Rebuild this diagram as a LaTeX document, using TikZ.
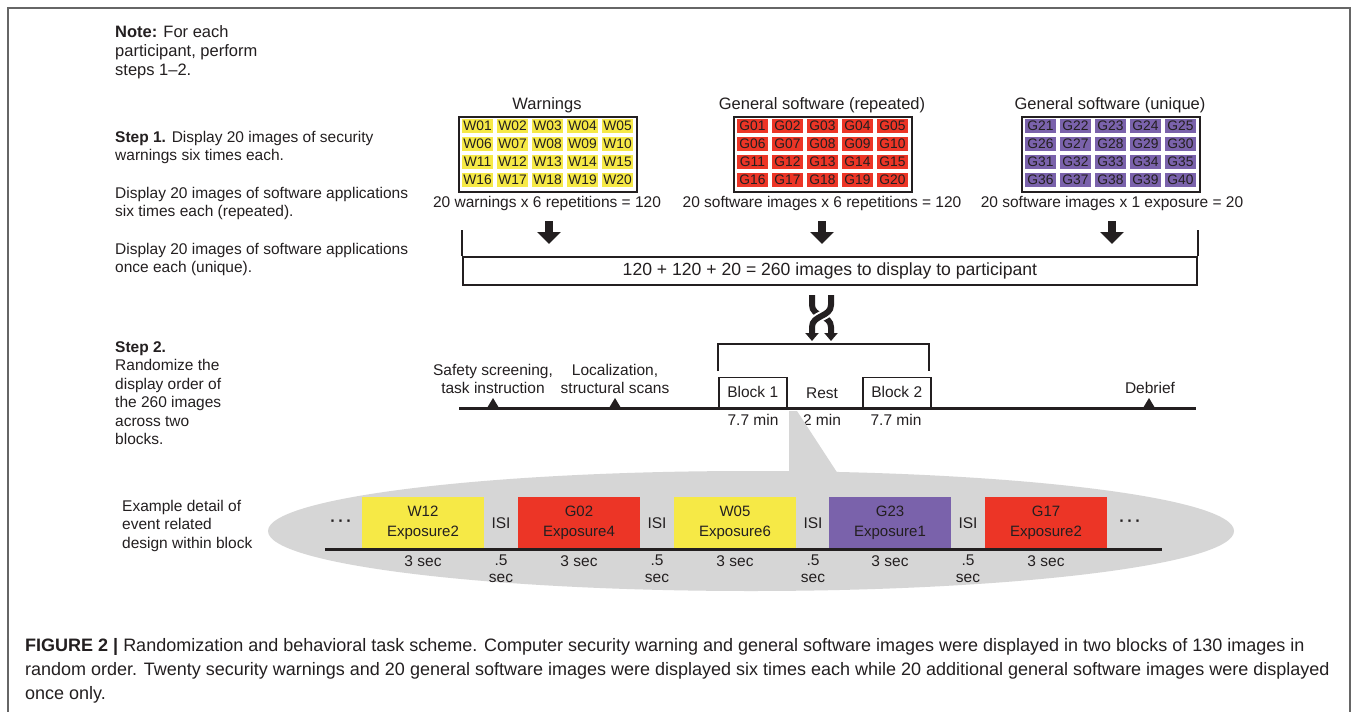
\documentclass[tikz,border=0pt]{standalone}
\usepackage{fontspec}
\setmainfont{Liberation Sans}
\usetikzlibrary{arrows.meta}

\definecolor{ink}{HTML}{231F20}
\definecolor{wyel}{HTML}{F6E946}
\definecolor{gred}{HTML}{EC3526}
\definecolor{gpur}{HTML}{7A62AB}
\definecolor{callout}{HTML}{D6D6D6}
\definecolor{framegray}{HTML}{666666}

\tikzset{
  body/.style={inner sep=0pt, text=ink, font=\fontsize{15.5}{18.5}\selectfont},
  leftcol/.style={body, anchor=north west, align=left},
  title/.style={inner sep=0pt, text=ink, font=\fontsize{16.5}{19}\selectfont},
  cell/.style={inner sep=0pt, minimum width=31, minimum height=14, text=ink,
    font=\fontsize{13.8}{14}\selectfont},
  gridbox/.style={draw=ink, line width=1.6, inner sep=0pt, minimum width=178,
    minimum height=75, anchor=north west},
  bigarrow/.style={line width=8, ink, -{Triangle[width=23pt,length=12pt]}},
  strand/.style={line width=6, ink, -{Triangle[width=13pt,length=8pt]}},
  gap/.style={line width=10, white},
  bracket/.style={draw=ink, line width=2},
  blockbox/.style={draw=ink, line width=1.5, inner sep=0pt, minimum width=68,
    minimum height=30, anchor=south west, body},
  axis/.style={draw=ink, line width=3},
  marker/.style={fill=ink},
  event/.style={inner sep=0pt, minimum width=122, minimum height=52, anchor=south,
    align=center, text=ink, font=\fontsize{15}{19.5}\selectfont},
}

% 4 x 5 grid of stimulus labels inside a framed box
% #1 left edge, #2 letter, #3 first number, #4 fill colour, #5 name prefix
\newcommand\stimgrid[5]{%
  \node[gridbox] (#5box) at (#1,116) {};
  \foreach \r in {0,...,3}{%
    \foreach \c in {0,...,4}{%
      \pgfmathtruncatemacro\num{#3+5*\r+\c}%
      \node[cell, fill=#4] (#5\num) at ({#1+19.5+35*\c},{126+18*\r})
        {#2\ifnum\num<10 0\fi\num};
    }%
  }%
}

\begin{document}
\begin{tikzpicture}[x=1pt,y=-1pt]
\useasboundingbox (0,0) rectangle (1358,712);
\fill[white] (0,0) rectangle (1358,712);

% outer frame
\draw[framegray, line width=1.5] (8,712) -- (8,8) -- (1350,8) -- (1350,712);

% ---------- left column ----------
\node[leftcol, font=\fontsize{16.5}{19}\selectfont] (note) at (115,25) {\textbf{Note:} For each\\participant, perform\\steps 1--2.};
\node[leftcol] (s1a) at (115,131) {\textbf{Step 1.} Display 20 images of security\\warnings six times each.};
\node[leftcol] (s1b) at (115,187) {Display 20 images of software applications\\six times each (repeated).};
\node[leftcol] (s1c) at (115,243) {Display 20 images of software applications\\once each (unique).};
\node[leftcol] (s2) at (115,341) {\textbf{Step 2.}\\Randomize the\\display order of\\the 260 images\\across two\\blocks.};
\node[leftcol] (ex) at (122,500) {Example detail of\\event related\\design within block};

% ---------- step 1 grids ----------
\node[title] (tW) at (547,105) {Warnings};
\node[title] (tR) at (822,105) {General software (repeated)};
\node[title] (tP) at (1110,105) {General software (unique)};

\stimgrid{458}{W}{1}{wyel}{w}
\stimgrid{733}{G}{1}{gred}{r}
\stimgrid{1021}{G}{21}{gpur}{p}

\node[body] (cW) at (547,203) {20 warnings x 6 repetitions = 120};
\node[body] (cR) at (822,203) {20 software images x 6 repetitions = 120};
\node[body] (cP) at (1112,203) {20 software images x 1 exposure = 20};

% merged total
\node[draw=ink, line width=1.8, inner sep=0pt, minimum width=734, minimum height=28,
  anchor=north west, body] (total) at (462,256) {};
\node[body, font=\fontsize{17.6}{20}\selectfont] (totaltxt) at (total.center) {120 + 120 + 20 = 260 images to display to participant};
\draw[ink, line width=1.8] (total.north west) -- ++(0,-26);
\draw[ink, line width=1.8] (total.north east) -- ++(0,-26);

\coordinate (aW) at (549,221);
\coordinate (aR) at (822,221);
\coordinate (aP) at (1112,221);
\draw[bigarrow] (aW) -- ++(0,23);
\draw[bigarrow] (aR) -- ++(0,23);
\draw[bigarrow] (aP) -- ++(0,23);

% shuffle symbol
\coordinate (shL) at (812,295);
\coordinate (shR) at (831,295);
\draw[strand] (shL) -- ++(0,10) .. controls +(0,12) and +(0,-12) .. (831,327) -- (831,341);
\draw[gap] (831,305) .. controls (831,317) and (812,315) .. (812,327);
\draw[strand] (shR) -- ++(0,10) .. controls +(0,12) and +(0,-12) .. (812,327) -- (812,341);

% ---------- step 2 timeline ----------
\draw[bracket] (718,371) -- (718,344) -- (929,344) -- (929,371);

\coordinate (t0) at (459,408);
\coordinate (t1) at (1196,408);

\node[blockbox] (b1) at (718,408) {Block 1};
\node[blockbox] (b2) at (862,408) {Block 2};
\node[body] (rest) at (822,393) {Rest};

\node[body, align=center] (safety) at (493,379) {Safety screening,\\task instruction};
\node[body, align=center] (local) at (615,379) {Localization,\\structural scans};
\node[body] (debrief) at (1150,388) {Debrief};

\node[body] (d1) at (753,420) {7.7 min};
\node[body] (d2) at (822,420) {2 min};
\node[body] (d3) at (896,420) {7.7 min};

% callout bubble
\fill[callout] (751,531) ellipse [x radius=483, y radius=60];
\fill[callout] (789,411) -- (797,411) -- (842,480) -- (789,480) -- cycle;

\draw[axis] (t0) -- (t1);
\fill[marker] (487,408) -- (493,398) -- (499,408) -- cycle;
\fill[marker] (609,408) -- (615,398) -- (621,408) -- cycle;
\fill[marker] (1143,408) -- (1149,398) -- (1155,408) -- cycle;

% ---------- event sequence ----------
\coordinate (e0) at (325,549);
\coordinate (e1) at (1162,549);

\node[event, fill=wyel] (ev1) at (423,549) {W12\\Exposure2};
\node[event, fill=gred] (ev2) at (579,549) {G02\\Exposure4};
\node[event, fill=wyel] (ev3) at (735,549) {W05\\Exposure6};
\node[event, fill=gpur] (ev4) at (890,549) {G23\\Exposure1};
\node[event, fill=gred] (ev5) at (1046,549) {G17\\Exposure2};
\draw[axis] (e0) -- (e1);

\node[body, font=\bfseries\fontsize{16}{18}\selectfont] (dotsL) at (341,523) {\textperiodcentered\,\textperiodcentered\,\textperiodcentered};
\node[body, font=\bfseries\fontsize{16}{18}\selectfont] (dotsR) at (1130,523) {\textperiodcentered\,\textperiodcentered\,\textperiodcentered};

\foreach \x [count=\i] in {501,657,813,968}{
  \node[body] (isi\i) at (\x,523) {ISI};
  \node[body] (half\i) at (\x,560) {.5};
  \node[body] (sec\i) at (\x,578) {sec};
}
\foreach \x [count=\i] in {423,579,735,890,1046}{
  \node[body] (three\i) at (\x,561) {3 sec};
}

% ---------- caption ----------
\node[inner sep=0pt, anchor=north west, align=left, text=ink,
  font=\fontsize{18}{24}\selectfont] (caption) at (25,638)
  {\textbf{FIGURE 2 |} Randomization and behavioral task scheme. Computer security warning and general software images were displayed in two blocks of 130 images in\\
   random order. Twenty security warnings and 20 general software images were displayed six times each while 20 additional general software images were displayed\\
   once only.};
\end{tikzpicture}
\end{document}
